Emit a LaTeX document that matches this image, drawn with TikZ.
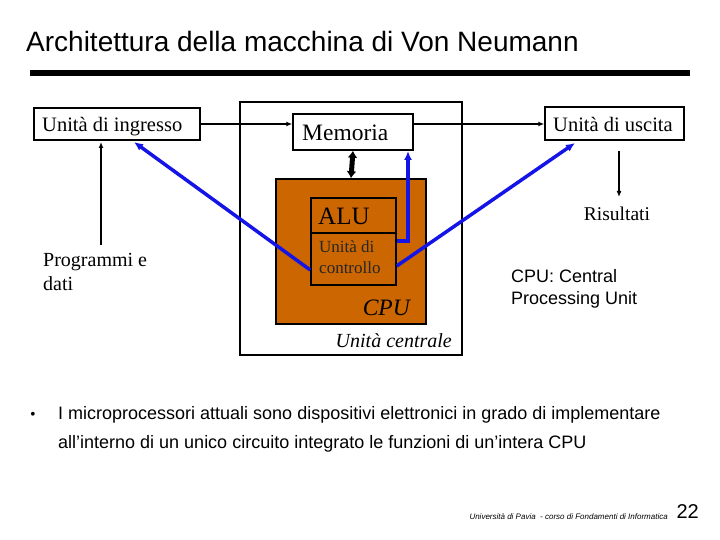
\documentclass[tikz,border=0pt]{standalone}
\usepackage{fontspec}
\setmainfont{Liberation Serif}
\newfontfamily\sansf{Liberation Sans}
\usetikzlibrary{arrows.meta}
\definecolor{cpuor}{RGB}{204,102,0}
\definecolor{bl}{RGB}{20,20,230}
\begin{document}
\begin{tikzpicture}[x=1pt,y=-1pt,
  box/.style={draw,line width=1.5pt,inner sep=0pt},
  ar/.style={-{Latex[length=6pt,width=5pt]},line width=1.5pt},
  ba/.style={-{Latex[length=9pt,width=8pt]},line width=3.5pt,bl}]
\useasboundingbox (0,0) rectangle (720,540);
\node[anchor=base west,font=\sansf\fontsize{28}{32}\selectfont,inner sep=0pt] (title) at (26,52) {Architettura della macchina di Von Neumann};
\draw[line width=6pt] (30,73) -- (690,73);
\node[box,minimum width=222,minimum height=253] (uc) at (351,228.5) {};
\node[box,fill=cpuor,minimum width=150,minimum height=145] (cpu) at (351,251.5) {};
\node[box,minimum width=85,minimum height=35] (alu) at (353.5,215.5) {};
\node[box,minimum width=85,minimum height=52] (ctl) at (353.5,259) {};
\node[box,fill=white,minimum width=166,minimum height=32] (in) at (117,124) {};
\node[box,fill=white,minimum width=120,minimum height=36] (mem) at (353,132) {};
\node[box,fill=white,minimum width=139,minimum height=33] (out) at (614.5,123.5) {};
\node[anchor=base west,font=\fontsize{20.5}{24}\selectfont,inner sep=0pt] (tin) at (42,132) {Unità di ingresso};
\node[anchor=base west,font=\fontsize{23.5}{26}\selectfont,inner sep=0pt] (tmem) at (302,141) {Memoria};
\node[anchor=base west,font=\fontsize{20.5}{24}\selectfont,inner sep=0pt] (tout) at (553,132) {Unità di uscita};
\node[anchor=base west,font=\fontsize{25}{28}\selectfont,inner sep=0pt] (talu) at (318,225) {ALU};
\node[anchor=north west,align=left,font=\fontsize{17}{21}\selectfont,inner sep=0pt,text=black!85] (tctl) at (319,240) {Unità di\\controllo};
\node[anchor=base east,font=\itshape\fontsize{23.5}{26}\selectfont,inner sep=0pt] (tcpu) at (410,315) {CPU};
\node[anchor=base east,font=\itshape\fontsize{20}{24}\selectfont,inner sep=0pt] (tuc) at (452,347) {Unità centrale};
\node[anchor=north west,align=left,font=\fontsize{20}{24}\selectfont,inner sep=0pt] (prog) at (43,253) {Programmi e\\dati};
\node[anchor=base,font=\fontsize{19.5}{22}\selectfont,inner sep=0pt] (ris) at (617,221) {Risultati};
\node[anchor=north west,align=left,font=\sansf\fontsize{18}{22}\selectfont,inner sep=0pt] (cpuc) at (511,269) {CPU: Central\\Processing Unit};
\draw[ar] (in.east) -- (mem.west|-in.east);
\draw[ar] (mem.east|-in.east) -- (out.west|-in.east);
\coordinate (p1) at (101,245);
\draw[ar] (p1) -- (101,142);
\coordinate (r1) at (619,151);
\draw[ar] (r1) -- (619,197);
\draw[{Latex[length=7pt,width=10pt]}-{Latex[length=7pt,width=10pt]},line width=5pt] (mem.south) -- (cpu.north);
\draw[ba] (ctl.west|-0,270) -- (134,142);
\draw[ba] (ctl.east|-0,266) -- (575,143);
\draw[ba] (ctl.east|-0,241) -- (408,241) -- (408,151);
\node[anchor=base west,font=\fontsize{16}{18}\selectfont,inner sep=0pt] (bul) at (30,419) {•};
\node[anchor=base west,font=\sansf\fontsize{18}{22}\selectfont,inner sep=0pt] (txt) at (58,419) {I microprocessori attuali sono dispositivi elettronici in grado di implementare};
\node[anchor=base west,font=\sansf\fontsize{18}{22}\selectfont,inner sep=0pt] (txt2) at (58,448) {all’interno di un unico circuito integrato le funzioni di un’intera CPU};
\node[anchor=base east,font=\sansf\itshape\fontsize{8}{10}\selectfont,inner sep=0pt] (foot) at (668,519) {Università di Pavia \ - corso di Fondamenti di Informatica};
\node[anchor=base east,font=\sansf\fontsize{20}{24}\selectfont,inner sep=0pt] (pg) at (699,518) {22};
\end{tikzpicture}
\end{document}
